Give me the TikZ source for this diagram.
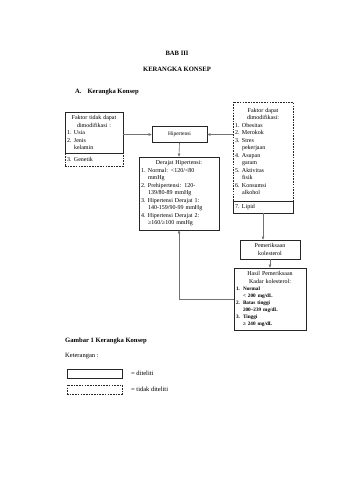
\documentclass[tikz,border=0pt]{standalone}
\usepackage{fontspec}
\setmainfont{Liberation Serif}
\usetikzlibrary{arrows.meta}
\newcommand\itm[2]{\makebox[7pt][l]{#1}#2}
\newcommand\cnt[1]{\hspace*{7pt}#1}
\begin{document}
\begin{tikzpicture}[x=1pt,y=-1pt,
  box/.style={draw=black!85, line width=0.7pt, inner xsep=2pt, inner ysep=1pt,
    font=\fontsize{6}{7.5}\selectfont, align=left},
  dbox/.style={box, dash pattern=on 1.6pt off 1.1pt},
  arr/.style={draw=black!55, line width=0.6pt, -{Triangle[length=3pt,width=2.6pt]}},
  ttl/.style={font=\bfseries\fontsize{6.6}{8}\selectfont, inner sep=0pt},
  txt/.style={font=\fontsize{6.5}{8}\selectfont, inner sep=0pt, anchor=west}]
\useasboundingbox[fill=white] (0,0) rectangle (340,480);

\node[ttl] (t1) at (177,53) {BAB III};
\node[ttl] (t2) at (177,69) {KERANGKA KONSEP};
\node[ttl, anchor=west] (t3) at (75,92) {A.\hspace{6pt}Kerangka Konsep};

% left boxes
\node[box, minimum width=58, minimum height=41, text width=54] (L1) at (94,132.5)
 {{\centering Faktor tidak dapat\\ dimodifikasi :\par}\raggedright
  \itm{1.}{Usia}\\ \itm{2.}{Jenis}\\ \cnt{kelamin}};
\node[dbox, minimum width=58, minimum height=13, text width=54] (L2) at (94,159.5)
 {\itm{3.}{Genetik}};

% hipertensi
\node[box, minimum width=55, minimum height=16, align=center, font=\fontsize{5.5}{7}\selectfont] (H) at (179.5,134.5) {Hipertensi};

% derajat
\node[box, minimum width=80, minimum height=73, text width=76] (D) at (179,193.5)
 {{\centering Derajat Hipertensi:\par}\raggedright
  \itm{1.}{Normal: <120/<80}\\ \cnt{mmHg}\\
  \itm{2.}{Prehipertensi: 120-}\\ \cnt{139/80-89 mmHg}\\
  \itm{3.}{Hipertensi Derajat 1:}\\ \cnt{140-159/90-99 mmHg}\\
  \itm{4.}{Hipertensi Derajat 2:}\\ \cnt{≥160/≥100 mmHg}};

% right boxes
\node[dbox, minimum width=60, minimum height=99, text width=56] (R1) at (263,151.5)
 {{\centering Faktor dapat\\ dimodifikasi:\par}\raggedright
  \itm{1.}{Obesitas}\\ \itm{2.}{Merokok}\\ \itm{3.}{Stres}\\ \cnt{pekerjaan}\\
  \itm{4.}{Asupan}\\ \cnt{garam}\\ \itm{5.}{Aktivitas}\\ \cnt{fisik}\\
  \itm{6.}{Konsumsi}\\ \cnt{alkohol}};
\node[box, minimum width=60, minimum height=12, text width=56] (R2) at (263,207)
 {\itm{7.}{Lipid}};

% pemeriksaan
\node[box, minimum width=60, minimum height=19, align=center] (P) at (270,249.5)
 {Pemeriksaan\\ kolesterol};

% hasil
\node[box, minimum width=72, minimum height=62, text width=68] (K) at (270,299)
 {{\centering Hasil Pemeriksaan\\ Kadar kolesterol:\par}\raggedright\bfseries\fontsize{5.2}{7}\selectfont
  \itm{1.}{Normal}\\ \cnt{< 200 mg/dL}\\ \itm{2.}{Batas tinggi}\\ \cnt{200–239 mg/dL}\\
  \itm{3.}{Tinggi}\\ \cnt{≥ 240 mg/dL}};

% connectors
\draw[arr] (L1.east |- H.west) -- (H.west);
\draw[arr] (R1.west |- H.east) -- (H.east);
\draw[arr] (H.south) -- (D.north);
\draw[arr] (R2.south) -- (R2.south |- P.north);
\draw[arr] (P.south) -- (P.south |- K.north);
\draw[arr] (K.west) -| (D.south);

% caption and legend
\node[ttl, anchor=west] (cap) at (65,341) {Gambar 1 Kerangka Konsep};
\node[txt] (ket) at (65,356) {Keterangan :};
\node[box, minimum width=55, minimum height=9] (ls) at (94.5,373.5) {};
\node[txt] (lst) at (131,373.5) {= diteliti};
\node[dbox, minimum width=55, minimum height=9] (ld) at (94.5,389.5) {};
\node[txt] (ldt) at (131,389.5) {= tidak diteliti};
\end{tikzpicture}
\end{document}
